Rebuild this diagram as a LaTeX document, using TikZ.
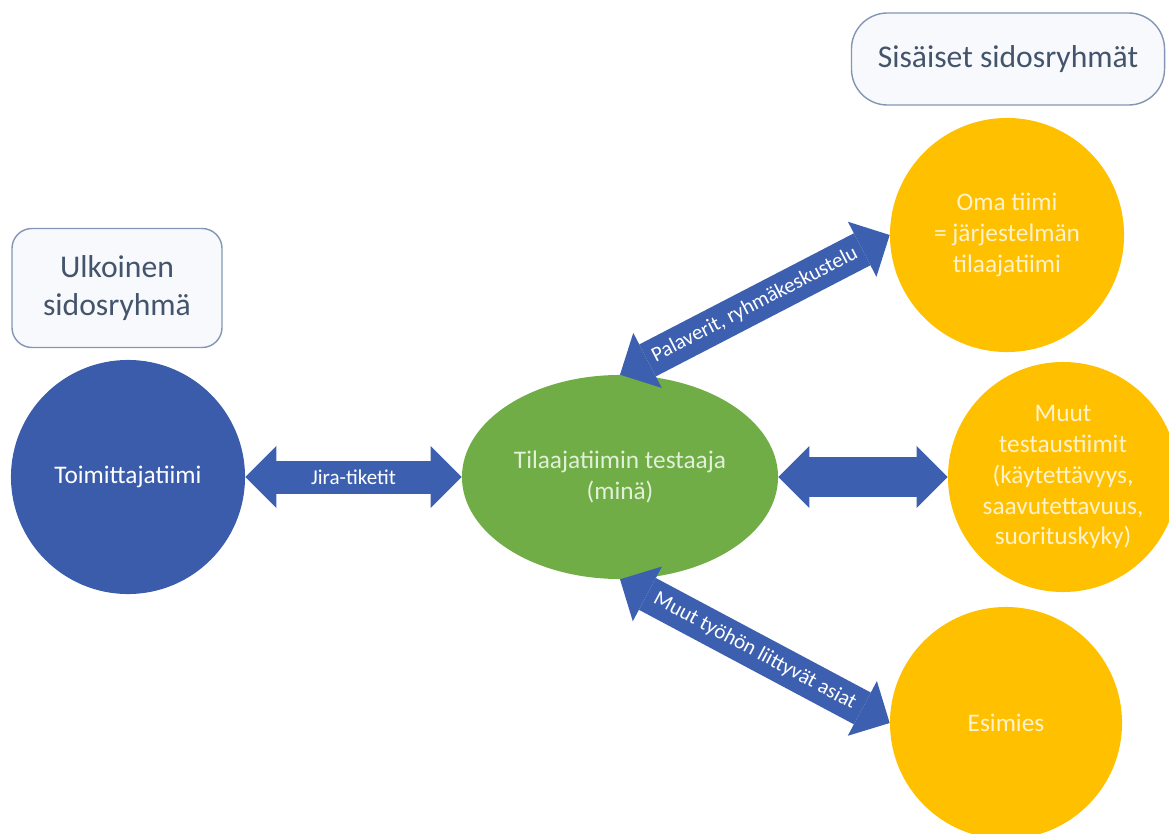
\documentclass[tikz,border=0pt]{standalone}
\usepackage{fontspec}
\setmainfont{Carlito}
\usepackage{tikz}
\usetikzlibrary{arrows.meta}
\usetikzlibrary{shapes.geometric}

\definecolor{teamblue}{HTML}{3B5CAA}
\definecolor{arrowblue}{HTML}{3D5FAF}
\definecolor{testergreen}{HTML}{70AD47}
\definecolor{groupyellow}{HTML}{FFC000}
\definecolor{boxslate}{HTML}{44546A}
\definecolor{boxframe}{HTML}{8496B3}
\definecolor{boxfill}{HTML}{F7F9FD}
\definecolor{palegreen}{HTML}{E2F0D9}
\definecolor{paleyellow}{HTML}{FFF2CC}

\tikzset{
    groupbox/.style={draw=boxframe, fill=boxfill, line width=1pt, text=boxslate, align=center,
        font=\fontsize{22.5}{27}\selectfont},
    party/.style={circle, inner sep=0pt, align=center, font=\fontsize{18}{22}\selectfont},
    bigarrow/.style={draw=arrowblue, line width=#1,
        {Triangle[line width=0pt, length=0.775cm, width=1.55cm]}-{Triangle[line width=0pt, length=0.775cm, width=1.55cm]}},
    bigarrow/.default=0.9cm,
    arrowlabel/.style={midway, sloped, inner sep=1pt, text=white, font=\fontsize{15}{18}\selectfont}
}

\begin{document}
\begin{tikzpicture}[x=0.025cm, y=-0.025cm]
    \useasboundingbox (0,0) rectangle (1169,834);
    \node[groupbox, rounded corners=0.5cm, minimum width=5.25cm, minimum height=2.975cm] (ulkoinen) at (117,288) {Ulkoinen\\sidosryhmä};
    \node[groupbox, rounded corners=0.9cm, minimum width=7.825cm, minimum height=2.3cm] (sisaiset) at (1008,59) {Sisäiset sidosryhmät};
    \node[party, fill=teamblue, text=white, minimum size=5.85cm] (toimittaja) at (128,477) {Toimittajatiimi};
    \node[ellipse, fill=testergreen, text=palegreen, inner sep=0pt, align=center, minimum width=7.9cm, minimum height=5.1cm,
        font=\fontsize{18}{22}\selectfont] (testaaja) at (620,477) {Tilaajatiimin testaaja\\(minä)};
    \node[party, fill=groupyellow, text=paleyellow, minimum size=5.85cm] (omatiimi) at (1007,235) {Oma tiimi\\= järjestelmän\\tilaajatiimi};
    \node[party, fill=groupyellow, text=paleyellow, minimum size=5.75cm] (muut) at (1063,477) {Muut\\testaustiimit\\(käytettävyys,\\saavutettavuus,\\suorituskyky)};
    \node[party, fill=groupyellow, text=paleyellow, minimum size=5.8cm] (esimies) at (1006,723) {Esimies};
    \draw[bigarrow=0.825cm] (toimittaja) -- (testaaja) node[arrowlabel] {Jira-tiketit};
    \draw[bigarrow=1cm] (testaaja) -- (muut);
    \draw[bigarrow] (testaaja.north) -- (omatiimi.west) node[arrowlabel] {Palaverit, ryhmäkeskustelu};
    \draw[bigarrow] (testaaja.south) -- (esimies.west) node[arrowlabel] {Muut työhön liittyvät asiat};
\end{tikzpicture}
\end{document}
